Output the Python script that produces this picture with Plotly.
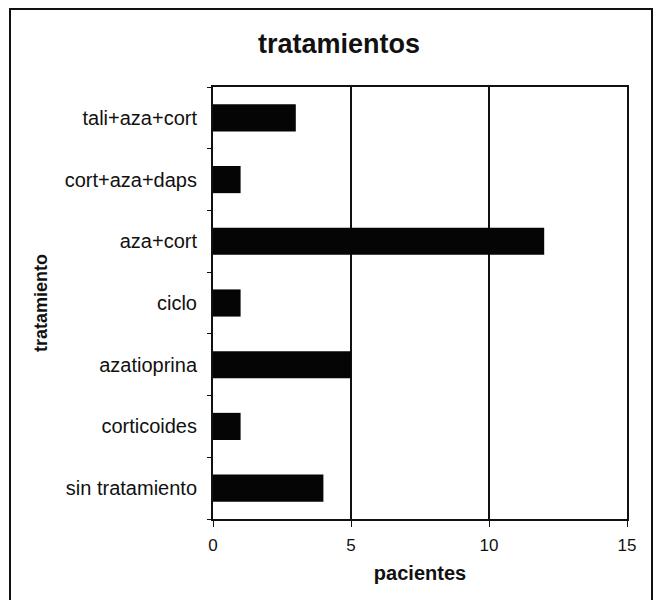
import plotly.graph_objects as go

# Number of patients per treatment
tratamientos = ["sin tratamiento", "corticoides", "azatioprina", "ciclo",
                "aza+cort", "cort+aza+daps", "tali+aza+cort"]
pacientes = [4, 1, 5, 1, 12, 1, 3]
x_ticks = [0, 5, 10, 15]

W, H = 658, 600
L, R, T, B = 213, 627, 87, 519  # plot area in pixels

fig = go.Figure(go.Bar(
    x=pacientes, y=tratamientos, orientation="h",
    marker=dict(color="#050505", line=dict(width=0)),
    width=0.44,
))

def px_to_paper(x, y):
    return (x - L) / (R - L), (B - y) / (B - T)

fx0, fy0 = px_to_paper(10, 9)
fx1, fy1 = px_to_paper(652, 640)

fig.update_layout(
    width=W, height=H,
    margin=dict(l=L, r=W - R, t=T, b=H - B),
    paper_bgcolor="white", plot_bgcolor="white",
    font=dict(family="Liberation Sans, Arial", color="#111", size=19),
    title=dict(text="<b>tratamientos</b>", x=339 / W, xanchor="center",
               y=1 - 44 / H, yanchor="middle", xref="container",
               yref="container", font=dict(size=27, color="#111")),
    showlegend=False,
    xaxis=dict(
        range=[0, 15], tickvals=x_ticks, ticktext=[str(v) for v in x_ticks],
        showgrid=True, gridcolor="#111", gridwidth=1.5,
        showline=True, linecolor="#111", linewidth=2, mirror=True,
        ticks="outside", ticklen=6, tickcolor="#111",
        zeroline=False, tickfont=dict(size=17), ticklabelstandoff=4,
        title=dict(text="<b>pacientes</b>", font=dict(size=20), standoff=12),
    ),
    yaxis=dict(
        showgrid=False, showline=True, linecolor="#111", linewidth=2,
        mirror=True, ticks="outside", ticklen=4, tickcolor="#111",
        tickson="boundaries", tickfont=dict(size=20), ticklabelstandoff=10,
        title=dict(text="<b>tratamiento</b>", font=dict(size=18), standoff=12),
    ),
    shapes=[dict(type="rect", xref="paper", yref="paper",
                 x0=fx0, y0=fy1, x1=fx1, y1=fy0,
                 line=dict(color="#111", width=2),
                 fillcolor="rgba(0,0,0,0)", layer="below")],
)

fig.write_html("out.html")
